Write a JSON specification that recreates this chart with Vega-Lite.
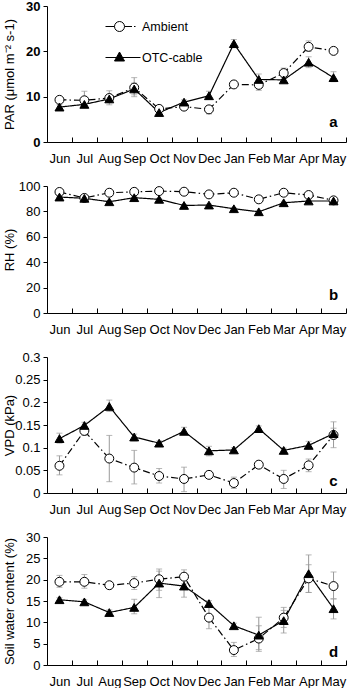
{
  "$schema": "https://vega.github.io/schema/vega-lite/v6.json",
  "padding": {"top": 0, "left": 2, "right": 2, "bottom": 0},
  "spacing": 15,
  "config": {
    "font": "Liberation Sans",
    "view": {"stroke": null},
    "axis": {"grid": false, "domainColor": "#000", "tickColor": "#000", "labelColor": "#000", "titleColor": "#000", "labelFontSize": 13, "titleFontSize": 13, "titleFontWeight": "normal", "domainWidth": 1, "tickWidth": 1, "labelOverlap": false},
    "axisY": {"tickSize": 4, "labelPadding": 3, "titleX": -38, "titleBaseline": "middle", "labelOverlap": false},
    "axisX": {"tickBand": "extent", "tickSize": -5, "labelPadding": 15, "title": null, "labelAngle": 0}
  },
  "datasets": {
    "main": [
      {"p":"a","m":"Jun","s":"Ambient","v":9.3,"lo":8.7,"hi":9.9},
      {"p":"a","m":"Jul","s":"Ambient","v":9.2,"lo":7.8,"hi":11.2},
      {"p":"a","m":"Aug","s":"Ambient","v":9.7,"lo":8.2,"hi":11.3},
      {"p":"a","m":"Sep","s":"Ambient","v":12.0,"lo":10.0,"hi":14.2},
      {"p":"a","m":"Oct","s":"Ambient","v":7.3,"lo":6.7,"hi":7.9},
      {"p":"a","m":"Nov","s":"Ambient","v":7.8,"lo":7.2,"hi":8.4},
      {"p":"a","m":"Dec","s":"Ambient","v":7.2,"lo":6.2,"hi":8.0},
      {"p":"a","m":"Jan","s":"Ambient","v":12.7,"lo":12.2,"hi":13.2},
      {"p":"a","m":"Feb","s":"Ambient","v":12.6,"lo":11.4,"hi":13.6},
      {"p":"a","m":"Mar","s":"Ambient","v":15.2,"lo":14.5,"hi":16.3},
      {"p":"a","m":"Apr","s":"Ambient","v":21.0,"lo":20.0,"hi":22.3},
      {"p":"a","m":"May","s":"Ambient","v":20.1,"lo":19.4,"hi":20.8},
      {"p":"a","m":"Jun","s":"OTC-cable","v":7.7,"lo":7.3,"hi":8.2},
      {"p":"a","m":"Jul","s":"OTC-cable","v":8.3,"lo":7.6,"hi":9.2},
      {"p":"a","m":"Aug","s":"OTC-cable","v":9.5,"lo":8.7,"hi":10.5},
      {"p":"a","m":"Sep","s":"OTC-cable","v":11.7,"lo":10.4,"hi":13.0},
      {"p":"a","m":"Oct","s":"OTC-cable","v":6.5,"lo":6.0,"hi":7.0},
      {"p":"a","m":"Nov","s":"OTC-cable","v":8.8,"lo":8.3,"hi":9.3},
      {"p":"a","m":"Dec","s":"OTC-cable","v":10.2,"lo":9.5,"hi":11.2},
      {"p":"a","m":"Jan","s":"OTC-cable","v":21.7,"lo":20.8,"hi":22.6},
      {"p":"a","m":"Feb","s":"OTC-cable","v":13.8,"lo":13.0,"hi":15.0},
      {"p":"a","m":"Mar","s":"OTC-cable","v":13.7,"lo":13.2,"hi":14.2},
      {"p":"a","m":"Apr","s":"OTC-cable","v":17.6,"lo":16.4,"hi":18.8},
      {"p":"a","m":"May","s":"OTC-cable","v":14.2,"lo":13.3,"hi":15.5},

      {"p":"b","m":"Jun","s":"Ambient","v":95.3,"lo":94.6,"hi":96.0},
      {"p":"b","m":"Jul","s":"Ambient","v":90.6,"lo":89.9,"hi":91.3},
      {"p":"b","m":"Aug","s":"Ambient","v":94.7,"lo":94.0,"hi":95.4},
      {"p":"b","m":"Sep","s":"Ambient","v":95.4,"lo":94.7,"hi":96.1},
      {"p":"b","m":"Oct","s":"Ambient","v":96.0,"lo":95.3,"hi":96.7},
      {"p":"b","m":"Nov","s":"Ambient","v":95.5,"lo":94.8,"hi":96.2},
      {"p":"b","m":"Dec","s":"Ambient","v":93.4,"lo":92.7,"hi":94.1},
      {"p":"b","m":"Jan","s":"Ambient","v":94.7,"lo":94.0,"hi":95.4},
      {"p":"b","m":"Feb","s":"Ambient","v":89.5,"lo":88.8,"hi":90.2},
      {"p":"b","m":"Mar","s":"Ambient","v":94.7,"lo":94.0,"hi":95.4},
      {"p":"b","m":"Apr","s":"Ambient","v":92.9,"lo":92.2,"hi":93.6},
      {"p":"b","m":"May","s":"Ambient","v":88.7,"lo":88.0,"hi":89.4},
      {"p":"b","m":"Jun","s":"OTC-cable","v":91.3,"lo":90.6,"hi":92.0},
      {"p":"b","m":"Jul","s":"OTC-cable","v":90.3,"lo":89.6,"hi":91.0},
      {"p":"b","m":"Aug","s":"OTC-cable","v":87.6,"lo":86.9,"hi":88.3},
      {"p":"b","m":"Sep","s":"OTC-cable","v":90.8,"lo":90.1,"hi":91.5},
      {"p":"b","m":"Oct","s":"OTC-cable","v":89.5,"lo":88.8,"hi":90.2},
      {"p":"b","m":"Nov","s":"OTC-cable","v":84.7,"lo":84.0,"hi":85.4},
      {"p":"b","m":"Dec","s":"OTC-cable","v":85.0,"lo":84.3,"hi":85.7},
      {"p":"b","m":"Jan","s":"OTC-cable","v":82.1,"lo":81.4,"hi":82.8},
      {"p":"b","m":"Feb","s":"OTC-cable","v":79.7,"lo":79.0,"hi":80.4},
      {"p":"b","m":"Mar","s":"OTC-cable","v":86.8,"lo":86.1,"hi":87.5},
      {"p":"b","m":"Apr","s":"OTC-cable","v":88.2,"lo":87.5,"hi":88.9},
      {"p":"b","m":"May","s":"OTC-cable","v":88.2,"lo":87.5,"hi":88.9},

      {"p":"c","m":"Jun","s":"Ambient","v":0.060,"lo":0.040,"hi":0.082},
      {"p":"c","m":"Jul","s":"Ambient","v":0.137,"lo":0.127,"hi":0.145},
      {"p":"c","m":"Aug","s":"Ambient","v":0.076,"lo":0.025,"hi":0.127},
      {"p":"c","m":"Sep","s":"Ambient","v":0.056,"lo":0.020,"hi":0.094},
      {"p":"c","m":"Oct","s":"Ambient","v":0.0375,"lo":0.022,"hi":0.054},
      {"p":"c","m":"Nov","s":"Ambient","v":0.031,"lo":0.003,"hi":0.057},
      {"p":"c","m":"Dec","s":"Ambient","v":0.040,"lo":0.032,"hi":0.048},
      {"p":"c","m":"Jan","s":"Ambient","v":0.022,"lo":0.010,"hi":0.035},
      {"p":"c","m":"Feb","s":"Ambient","v":0.0625,"lo":0.058,"hi":0.067},
      {"p":"c","m":"Mar","s":"Ambient","v":0.031,"lo":0.010,"hi":0.050},
      {"p":"c","m":"Apr","s":"Ambient","v":0.061,"lo":0.047,"hi":0.075},
      {"p":"c","m":"May","s":"Ambient","v":0.128,"lo":0.100,"hi":0.157},
      {"p":"c","m":"Jun","s":"OTC-cable","v":0.120,"lo":0.110,"hi":0.132},
      {"p":"c","m":"Jul","s":"OTC-cable","v":0.149,"lo":0.142,"hi":0.156},
      {"p":"c","m":"Aug","s":"OTC-cable","v":0.191,"lo":0.180,"hi":0.205},
      {"p":"c","m":"Sep","s":"OTC-cable","v":0.1235,"lo":0.115,"hi":0.130},
      {"p":"c","m":"Oct","s":"OTC-cable","v":0.110,"lo":0.105,"hi":0.115},
      {"p":"c","m":"Nov","s":"OTC-cable","v":0.136,"lo":0.130,"hi":0.145},
      {"p":"c","m":"Dec","s":"OTC-cable","v":0.093,"lo":0.082,"hi":0.103},
      {"p":"c","m":"Jan","s":"OTC-cable","v":0.095,"lo":0.090,"hi":0.100},
      {"p":"c","m":"Feb","s":"OTC-cable","v":0.142,"lo":0.135,"hi":0.148},
      {"p":"c","m":"Mar","s":"OTC-cable","v":0.094,"lo":0.089,"hi":0.099},
      {"p":"c","m":"Apr","s":"OTC-cable","v":0.105,"lo":0.097,"hi":0.114},
      {"p":"c","m":"May","s":"OTC-cable","v":0.131,"lo":0.120,"hi":0.143},

      {"p":"d","m":"Jun","s":"Ambient","v":19.5,"lo":18.2,"hi":21.0},
      {"p":"d","m":"Jul","s":"Ambient","v":19.5,"lo":18.0,"hi":21.2},
      {"p":"d","m":"Aug","s":"Ambient","v":18.7,"lo":18.1,"hi":19.3},
      {"p":"d","m":"Sep","s":"Ambient","v":19.2,"lo":17.7,"hi":20.7},
      {"p":"d","m":"Oct","s":"Ambient","v":20.1,"lo":17.5,"hi":22.5},
      {"p":"d","m":"Nov","s":"Ambient","v":20.7,"lo":19.0,"hi":22.3},
      {"p":"d","m":"Dec","s":"Ambient","v":11.1,"lo":8.5,"hi":14.0},
      {"p":"d","m":"Jan","s":"Ambient","v":3.5,"lo":2.0,"hi":5.3},
      {"p":"d","m":"Feb","s":"Ambient","v":6.2,"lo":3.2,"hi":9.2},
      {"p":"d","m":"Mar","s":"Ambient","v":11.1,"lo":8.8,"hi":13.5},
      {"p":"d","m":"Apr","s":"Ambient","v":20.3,"lo":17.0,"hi":23.5},
      {"p":"d","m":"May","s":"Ambient","v":18.5,"lo":15.5,"hi":21.8},
      {"p":"d","m":"Jun","s":"OTC-cable","v":15.3,"lo":14.8,"hi":15.8},
      {"p":"d","m":"Jul","s":"OTC-cable","v":14.8,"lo":14.3,"hi":15.3},
      {"p":"d","m":"Aug","s":"OTC-cable","v":12.3,"lo":11.7,"hi":12.9},
      {"p":"d","m":"Sep","s":"OTC-cable","v":13.5,"lo":12.0,"hi":15.4},
      {"p":"d","m":"Oct","s":"OTC-cable","v":19.2,"lo":15.8,"hi":22.0},
      {"p":"d","m":"Nov","s":"OTC-cable","v":18.5,"lo":15.9,"hi":21.0},
      {"p":"d","m":"Dec","s":"OTC-cable","v":14.4,"lo":13.7,"hi":15.1},
      {"p":"d","m":"Jan","s":"OTC-cable","v":9.2,"lo":8.6,"hi":9.8},
      {"p":"d","m":"Feb","s":"OTC-cable","v":7.0,"lo":3.6,"hi":11.2},
      {"p":"d","m":"Mar","s":"OTC-cable","v":10.4,"lo":7.5,"hi":12.8},
      {"p":"d","m":"Apr","s":"OTC-cable","v":21.4,"lo":17.0,"hi":25.8},
      {"p":"d","m":"May","s":"OTC-cable","v":13.2,"lo":10.8,"hi":15.5}
    ],
    "letters": [
      {"p":"a","m":"May","v":4.4,"t":"a"},
      {"p":"b","m":"May","v":14.5,"t":"b"},
      {"p":"c","m":"May","v":0.026,"t":"c"},
      {"p":"d","m":"May","v":3.1,"t":"d"}
    ]
  },
  "vconcat": [
    {
      "width": 299, "height": 136,
      "layer": [
        {"data": {"name": "main"}, "transform": [{"filter": "datum.p === 'a'"}],
         "mark": {"type": "errorbar", "color": "#999", "ticks": {"size": 6, "color": "#999"}, "thickness": 1},
         "encoding": {
           "x": {"field": "m", "type": "nominal", "sort": ["Jun","Jul","Aug","Sep","Oct","Nov","Dec","Jan","Feb","Mar","Apr","May"], "scale": {"type": "band", "paddingInner": 0, "paddingOuter": 0}},
           "y": {"field": "lo", "type": "quantitative", "scale": {"domain": [0, 30]}, "title": "PAR (μmol m⁻² s-1)", "axis": {"values": [0,10,20,30], "labelFontWeight": "bold", "labelOverlap": false}},
           "y2": {"field": "hi"}
         }},
        {"data": {"name": "main"}, "transform": [{"filter": "datum.p === 'a'"}],
         "mark": {"type": "line", "color": "#000", "strokeWidth": 1.2},
         "encoding": {
           "x": {"field": "m", "type": "nominal", "sort": ["Jun","Jul","Aug","Sep","Oct","Nov","Dec","Jan","Feb","Mar","Apr","May"]},
           "y": {"field": "v", "type": "quantitative", "title": "PAR (μmol m⁻² s-1)", "axis": {"values": [0,10,20,30], "labelFontWeight": "bold", "labelOverlap": false}},
           "detail": {"field": "s", "type": "nominal"},
           "strokeDash": {"condition": {"test": "datum.s === 'Ambient'", "value": [7,3,1.5,3]}, "value": [1,0]}
         }},
        {"data": {"name": "main"}, "transform": [{"filter": "datum.p === 'a'"}],
         "mark": {"type": "point", "filled": true, "stroke": "#000", "strokeWidth": 1, "size": 0},
         "encoding": {
           "x": {"field": "m", "type": "nominal", "sort": ["Jun","Jul","Aug","Sep","Oct","Nov","Dec","Jan","Feb","Mar","Apr","May"]},
           "y": {"field": "v", "type": "quantitative", "title": "PAR (μmol m⁻² s-1)", "axis": {"values": [0,10,20,30], "labelFontWeight": "bold", "labelOverlap": false}},
           "shape": {"field": "s", "type": "nominal", "scale": {"domain": ["Ambient","OTC-cable"], "range": ["M-1.4,0H-0.5M-0.5,0A0.5,0.5 0 1 1 0.5,0A0.5,0.5 0 1 1 -0.5,0M0.5,0H1.25M1.45,0H1.6", "M-1.4,0H2.1M0,-0.55L0.5,0.35L-0.5,0.35Z"]},
             "legend": {"orient": "none", "legendX": 62, "legendY": 10, "title": null, "padding": 0, "symbolSize": 400, "rowPadding": 13, "labelOffset": 12, "labelFontSize": 12.5, "labelColor": "#000", "symbolStrokeWidth": 1, "symbolOpacity": 1,
               "encode": {"symbols": {"stroke": {"value": "black"}, "strokeWidth": {"value": 1}}}}},
           "fill": {"field": "s", "type": "nominal", "scale": {"domain": ["Ambient","OTC-cable"], "range": ["white","black"]},
             "legend": {"orient": "none", "legendX": 62, "legendY": 10, "title": null, "padding": 0, "symbolSize": 400, "rowPadding": 13, "labelOffset": 12, "labelFontSize": 12.5, "labelColor": "#000", "symbolStrokeWidth": 1, "symbolOpacity": 1,
               "encode": {"symbols": {"stroke": {"value": "black"}, "strokeWidth": {"value": 1}}}}}
         }},
        {"data": {"name": "main"}, "transform": [{"filter": "datum.p === 'a'"}],
         "mark": {"type": "point", "filled": true, "stroke": "#000", "strokeWidth": 1, "size": 80, "opacity": 1},
         "encoding": {
           "x": {"field": "m", "type": "nominal", "sort": ["Jun","Jul","Aug","Sep","Oct","Nov","Dec","Jan","Feb","Mar","Apr","May"]},
           "y": {"field": "v", "type": "quantitative", "title": "PAR (μmol m⁻² s-1)", "axis": {"values": [0,10,20,30], "labelFontWeight": "bold", "labelOverlap": false}},
           "shape": {"condition": {"test": "datum.s === 'Ambient'", "value": "circle"}, "value": "triangle-up"},
           "fill": {"condition": {"test": "datum.s === 'Ambient'", "value": "white"}, "value": "black"}
         }},
        {"data": {"name": "letters"}, "transform": [{"filter": "datum.p === 'a'"}],
         "mark": {"type": "text", "fontWeight": "bold", "fontSize": 15, "color": "#000"},
         "encoding": {
           "x": {"field": "m", "type": "nominal", "sort": ["Jun","Jul","Aug","Sep","Oct","Nov","Dec","Jan","Feb","Mar","Apr","May"]},
           "y": {"field": "v", "type": "quantitative", "title": "PAR (μmol m⁻² s-1)", "axis": {"values": [0,10,20,30], "labelFontWeight": "bold", "labelOverlap": false}},
           "text": {"field": "t"}
         }}
      ]
    },
    {
      "width": 299, "height": 127,
      "layer": [
        {"data": {"name": "main"}, "transform": [{"filter": "datum.p === 'b'"}],
         "mark": {"type": "errorbar", "color": "#999", "ticks": {"size": 6, "color": "#999"}, "thickness": 1},
         "encoding": {
           "x": {"field": "m", "type": "nominal", "sort": ["Jun","Jul","Aug","Sep","Oct","Nov","Dec","Jan","Feb","Mar","Apr","May"], "scale": {"type": "band", "paddingInner": 0, "paddingOuter": 0}},
           "y": {"field": "lo", "type": "quantitative", "scale": {"domain": [0, 100]}, "title": "RH (%)", "axis": {"values": [0,20,40,60,80,100], "labelOverlap": false}},
           "y2": {"field": "hi"}
         }},
        {"data": {"name": "main"}, "transform": [{"filter": "datum.p === 'b'"}],
         "mark": {"type": "line", "color": "#000", "strokeWidth": 1.2},
         "encoding": {
           "x": {"field": "m", "type": "nominal", "sort": ["Jun","Jul","Aug","Sep","Oct","Nov","Dec","Jan","Feb","Mar","Apr","May"]},
           "y": {"field": "v", "type": "quantitative", "title": "RH (%)", "axis": {"values": [0,20,40,60,80,100], "labelOverlap": false}},
           "detail": {"field": "s", "type": "nominal"},
           "strokeDash": {"condition": {"test": "datum.s === 'Ambient'", "value": [7,3,1.5,3]}, "value": [1,0]}
         }},
        {"data": {"name": "main"}, "transform": [{"filter": "datum.p === 'b'"}],
         "mark": {"type": "point", "filled": true, "stroke": "#000", "strokeWidth": 1, "size": 80, "opacity": 1},
         "encoding": {
           "x": {"field": "m", "type": "nominal", "sort": ["Jun","Jul","Aug","Sep","Oct","Nov","Dec","Jan","Feb","Mar","Apr","May"]},
           "y": {"field": "v", "type": "quantitative", "title": "RH (%)", "axis": {"values": [0,20,40,60,80,100], "labelOverlap": false}},
           "shape": {"condition": {"test": "datum.s === 'Ambient'", "value": "circle"}, "value": "triangle-up"},
           "fill": {"condition": {"test": "datum.s === 'Ambient'", "value": "white"}, "value": "black"}
         }},
        {"data": {"name": "letters"}, "transform": [{"filter": "datum.p === 'b'"}],
         "mark": {"type": "text", "fontWeight": "bold", "fontSize": 15, "color": "#000"},
         "encoding": {
           "x": {"field": "m", "type": "nominal", "sort": ["Jun","Jul","Aug","Sep","Oct","Nov","Dec","Jan","Feb","Mar","Apr","May"]},
           "y": {"field": "v", "type": "quantitative", "title": "RH (%)", "axis": {"values": [0,20,40,60,80,100], "labelOverlap": false}},
           "text": {"field": "t"}
         }}
      ]
    },
    {
      "width": 299, "height": 136,
      "layer": [
        {"data": {"name": "main"}, "transform": [{"filter": "datum.p === 'c'"}],
         "mark": {"type": "errorbar", "color": "#999", "ticks": {"size": 6, "color": "#999"}, "thickness": 1},
         "encoding": {
           "x": {"field": "m", "type": "nominal", "sort": ["Jun","Jul","Aug","Sep","Oct","Nov","Dec","Jan","Feb","Mar","Apr","May"], "scale": {"type": "band", "paddingInner": 0, "paddingOuter": 0}},
           "y": {"field": "lo", "type": "quantitative", "scale": {"domain": [0, 0.3]}, "title": "VPD (kPa)", "axis": {"values": [0,0.05,0.1,0.15,0.2,0.25,0.3], "format": "~g", "labelOverlap": false}},
           "y2": {"field": "hi"}
         }},
        {"data": {"name": "main"}, "transform": [{"filter": "datum.p === 'c'"}],
         "mark": {"type": "line", "color": "#000", "strokeWidth": 1.2},
         "encoding": {
           "x": {"field": "m", "type": "nominal", "sort": ["Jun","Jul","Aug","Sep","Oct","Nov","Dec","Jan","Feb","Mar","Apr","May"]},
           "y": {"field": "v", "type": "quantitative", "title": "VPD (kPa)", "axis": {"values": [0,0.05,0.1,0.15,0.2,0.25,0.3], "format": "~g", "labelOverlap": false}},
           "detail": {"field": "s", "type": "nominal"},
           "strokeDash": {"condition": {"test": "datum.s === 'Ambient'", "value": [7,3,1.5,3]}, "value": [1,0]}
         }},
        {"data": {"name": "main"}, "transform": [{"filter": "datum.p === 'c'"}],
         "mark": {"type": "point", "filled": true, "stroke": "#000", "strokeWidth": 1, "size": 80, "opacity": 1},
         "encoding": {
           "x": {"field": "m", "type": "nominal", "sort": ["Jun","Jul","Aug","Sep","Oct","Nov","Dec","Jan","Feb","Mar","Apr","May"]},
           "y": {"field": "v", "type": "quantitative", "title": "VPD (kPa)", "axis": {"values": [0,0.05,0.1,0.15,0.2,0.25,0.3], "format": "~g", "labelOverlap": false}},
           "shape": {"condition": {"test": "datum.s === 'Ambient'", "value": "circle"}, "value": "triangle-up"},
           "fill": {"condition": {"test": "datum.s === 'Ambient'", "value": "white"}, "value": "black"}
         }},
        {"data": {"name": "letters"}, "transform": [{"filter": "datum.p === 'c'"}],
         "mark": {"type": "text", "fontWeight": "bold", "fontSize": 15, "color": "#000"},
         "encoding": {
           "x": {"field": "m", "type": "nominal", "sort": ["Jun","Jul","Aug","Sep","Oct","Nov","Dec","Jan","Feb","Mar","Apr","May"]},
           "y": {"field": "v", "type": "quantitative", "title": "VPD (kPa)", "axis": {"values": [0,0.05,0.1,0.15,0.2,0.25,0.3], "format": "~g", "labelOverlap": false}},
           "text": {"field": "t"}
         }}
      ]
    },
    {
      "width": 299, "height": 128,
      "layer": [
        {"data": {"name": "main"}, "transform": [{"filter": "datum.p === 'd'"}],
         "mark": {"type": "errorbar", "color": "#999", "ticks": {"size": 6, "color": "#999"}, "thickness": 1},
         "encoding": {
           "x": {"field": "m", "type": "nominal", "sort": ["Jun","Jul","Aug","Sep","Oct","Nov","Dec","Jan","Feb","Mar","Apr","May"], "scale": {"type": "band", "paddingInner": 0, "paddingOuter": 0}},
           "y": {"field": "lo", "type": "quantitative", "scale": {"domain": [0, 30]}, "title": "Soil water content (%)", "axis": {"values": [0,5,10,15,20,25,30], "labelOverlap": false}},
           "y2": {"field": "hi"}
         }},
        {"data": {"name": "main"}, "transform": [{"filter": "datum.p === 'd'"}],
         "mark": {"type": "line", "color": "#000", "strokeWidth": 1.2},
         "encoding": {
           "x": {"field": "m", "type": "nominal", "sort": ["Jun","Jul","Aug","Sep","Oct","Nov","Dec","Jan","Feb","Mar","Apr","May"]},
           "y": {"field": "v", "type": "quantitative", "title": "Soil water content (%)", "axis": {"values": [0,5,10,15,20,25,30], "labelOverlap": false}},
           "detail": {"field": "s", "type": "nominal"},
           "strokeDash": {"condition": {"test": "datum.s === 'Ambient'", "value": [7,3,1.5,3]}, "value": [1,0]}
         }},
        {"data": {"name": "main"}, "transform": [{"filter": "datum.p === 'd'"}],
         "mark": {"type": "point", "filled": true, "stroke": "#000", "strokeWidth": 1, "size": 80, "opacity": 1},
         "encoding": {
           "x": {"field": "m", "type": "nominal", "sort": ["Jun","Jul","Aug","Sep","Oct","Nov","Dec","Jan","Feb","Mar","Apr","May"]},
           "y": {"field": "v", "type": "quantitative", "title": "Soil water content (%)", "axis": {"values": [0,5,10,15,20,25,30], "labelOverlap": false}},
           "shape": {"condition": {"test": "datum.s === 'Ambient'", "value": "circle"}, "value": "triangle-up"},
           "fill": {"condition": {"test": "datum.s === 'Ambient'", "value": "white"}, "value": "black"}
         }},
        {"data": {"name": "letters"}, "transform": [{"filter": "datum.p === 'd'"}],
         "mark": {"type": "text", "fontWeight": "bold", "fontSize": 15, "color": "#000"},
         "encoding": {
           "x": {"field": "m", "type": "nominal", "sort": ["Jun","Jul","Aug","Sep","Oct","Nov","Dec","Jan","Feb","Mar","Apr","May"]},
           "y": {"field": "v", "type": "quantitative", "title": "Soil water content (%)", "axis": {"values": [0,5,10,15,20,25,30], "labelOverlap": false}},
           "text": {"field": "t"}
         }}
      ]
    }
  ],
  "resolve": {"scale": {"x": "independent", "y": "independent"}}
}
